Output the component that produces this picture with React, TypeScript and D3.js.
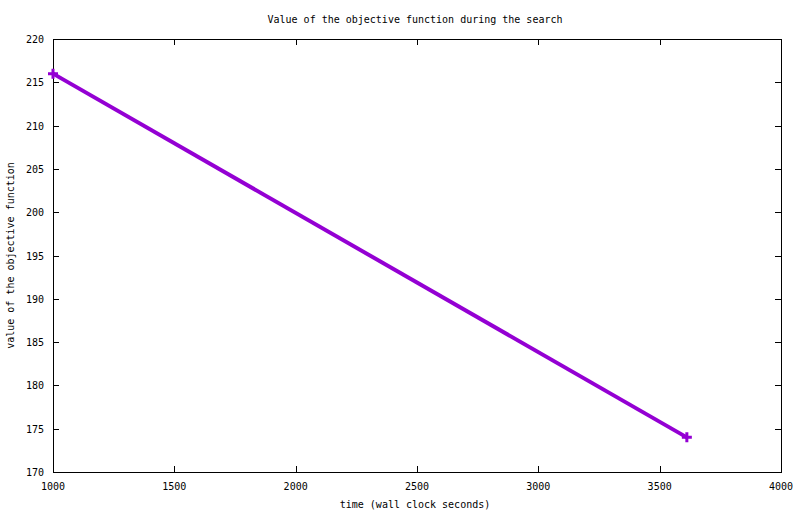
import React, { useRef, useEffect } from "react";
import * as d3 from "d3";

const times: number[] = [1000, 3612];
const objective: number[] = [216, 174];
const xTicks: number[] = [1000, 1500, 2000, 2500, 3000, 3500, 4000];
const yTicks: number[] = [170, 175, 180, 185, 190, 195, 200, 205, 210, 215, 220];

const chart_width = 800;
const chart_height = 514;
const margin = { left: 53, right: 19, top: 39, bottom: 42 };
const font = "'DejaVu Sans Mono', 'Liberation Mono', monospace";
const purple = "#9400D3";

const App: React.FC = () => {
  const ref = useRef<SVGSVGElement>(null);

  useEffect(() => {
    if (!ref.current) return;
    const svg = d3.select(ref.current);
    svg.selectAll("*").remove();

    const x_scale = d3
      .scaleLinear()
      .domain([1000, 4000])
      .range([margin.left, chart_width - margin.right]);
    const y_scale = d3
      .scaleLinear()
      .domain([170, 220])
      .range([chart_height - margin.bottom, margin.top]);

    svg.append("rect").attr("width", chart_width).attr("height", chart_height).attr("fill", "#fff");

    const x0 = x_scale.range()[0];
    const x1 = x_scale.range()[1];
    const y0 = y_scale.range()[0];
    const y1 = y_scale.range()[1];

    // ticks, mirrored on all sides, pointing inward
    const tk = 6;
    const g = svg.append("g").attr("stroke", "#000").attr("stroke-width", 1);
    xTicks.forEach((t) => {
      const x = Math.round(x_scale(t)) + 0.5;
      g.append("line").attr("x1", x).attr("x2", x).attr("y1", y0).attr("y2", y0 - tk);
      g.append("line").attr("x1", x).attr("x2", x).attr("y1", y1).attr("y2", y1 + tk);
    });
    yTicks.forEach((t) => {
      const y = Math.round(y_scale(t)) + 0.5;
      g.append("line").attr("x1", x0).attr("x2", x0 + tk).attr("y1", y).attr("y2", y);
      g.append("line").attr("x1", x1).attr("x2", x1 - tk).attr("y1", y).attr("y2", y);
    });

    svg
      .append("rect")
      .attr("x", x0 + 0.5)
      .attr("y", y1 + 0.5)
      .attr("width", x1 - x0)
      .attr("height", y0 - y1)
      .attr("fill", "none")
      .attr("stroke", "#000")
      .attr("stroke-width", 1);

    const text = svg.append("g").attr("font-family", font).attr("font-size", 10).attr("fill", "#000");
    xTicks.forEach((t) => {
      text
        .append("text")
        .attr("x", x_scale(t))
        .attr("y", y0 + 18)
        .attr("text-anchor", "middle")
        .text(t);
    });
    yTicks.forEach((t) => {
      text
        .append("text")
        .attr("x", x0 - 9)
        .attr("y", y_scale(t) + 4)
        .attr("text-anchor", "end")
        .text(t);
    });
    text
      .append("text")
      .attr("x", 415)
      .attr("y", 23)
      .attr("text-anchor", "middle")
      .text("Value of the objective function during the search");
    text
      .append("text")
      .attr("x", 415)
      .attr("y", 508)
      .attr("text-anchor", "middle")
      .text("time (wall clock seconds)");
    text
      .append("text")
      .attr("transform", `translate(14,${(y0 + y1) / 2}) rotate(-90)`)
      .attr("text-anchor", "middle")
      .text("value of the objective function");

    const pts: [number, number][] = times.map((t, i) => [t, objective[i]]);
    const line = d3
      .line<[number, number]>()
      .x((d) => x_scale(d[0]))
      .y((d) => y_scale(d[1]));
    svg
      .append("path")
      .datum(pts)
      .attr("d", line)
      .attr("fill", "none")
      .attr("stroke", purple)
      .attr("stroke-width", 4);

    const s = 5;
    svg
      .selectAll("path.pt")
      .data(pts)
      .enter()
      .append("path")
      .attr("class", "pt")
      .attr("d", (d) => {
        const x = x_scale(d[0]);
        const y = y_scale(d[1]);
        return `M${x - s},${y}H${x + s}M${x},${y - s}V${y + s}`;
      })
      .attr("stroke", purple)
      .attr("stroke-width", 3)
      .attr("fill", "none");
  }, []);

  return (
    <svg
      ref={ref}
      width={chart_width}
      height={chart_height}
      style={{ position: "absolute", left: 0, top: 0, display: "block" }}
    />
  );
};

export default App;
